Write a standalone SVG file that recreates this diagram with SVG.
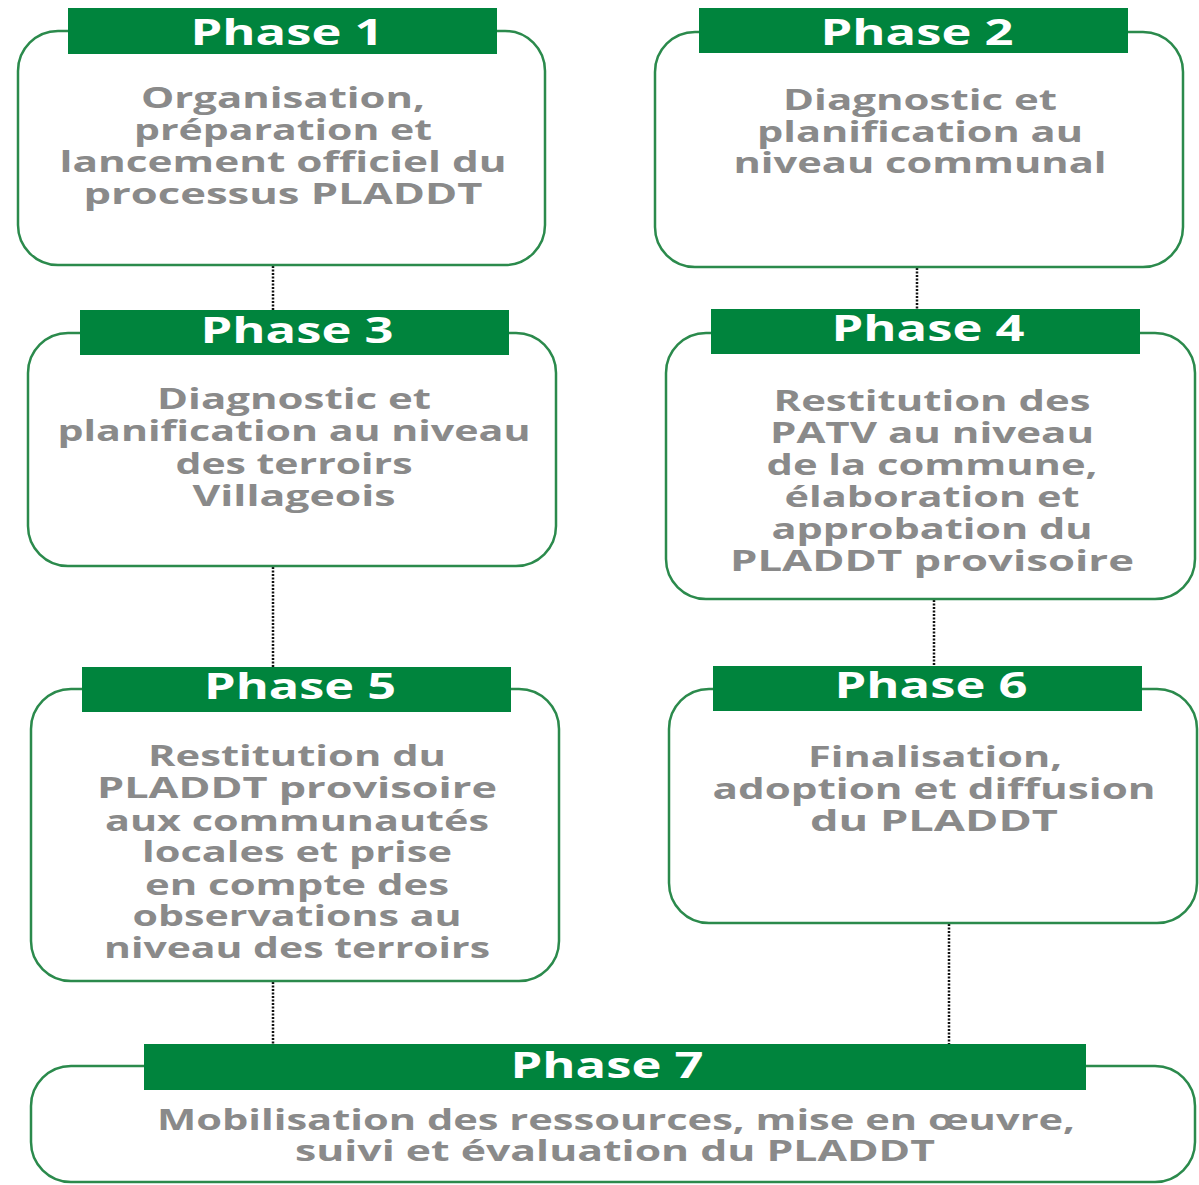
<svg xmlns="http://www.w3.org/2000/svg" width="1199" height="1185" viewBox="0 0 1199 1185">
<style>
.box{fill:#fff;stroke:#2b8a4c;stroke-width:2.5}
.bar{fill:#00843d}
.t{font-family:"Open Sans","Liberation Sans",sans-serif;font-weight:bold;font-size:35px;fill:#fff;text-anchor:middle}
.b{font-family:"Open Sans","Liberation Sans",sans-serif;font-weight:bold;font-size:28px;fill:#8a8a8a;text-anchor:middle}
.c{stroke:#111;stroke-width:2.5;stroke-dasharray:2 1.5;fill:none}
</style>
<rect width="1199" height="1185" fill="#fff"/>
<g id="connectors">
<line class="c" x1="273" y1="266" x2="273" y2="310"/>
<line class="c" x1="917" y1="268" x2="917" y2="309"/>
<line class="c" x1="273" y1="567" x2="273" y2="667"/>
<line class="c" x1="934" y1="600" x2="934" y2="666"/>
<line class="c" x1="273" y1="982" x2="273" y2="1044"/>
<line class="c" x1="949" y1="924" x2="949" y2="1044"/>
</g>
<g id="phase1">
<rect class="box" x="18" y="31" width="527" height="234" rx="40"/>
<rect class="bar" x="68" y="8" width="429" height="46"/>
<text class="t" x="287" y="45" textLength="193" lengthAdjust="spacingAndGlyphs">Phase 1</text>
<text class="b" x="283" y="108" textLength="284" lengthAdjust="spacingAndGlyphs">Organisation,</text>
<text class="b" x="283" y="140" textLength="298" lengthAdjust="spacingAndGlyphs">préparation et</text>
<text class="b" x="283" y="172" textLength="447" lengthAdjust="spacingAndGlyphs">lancement officiel du</text>
<text class="b" x="283" y="204" textLength="399" lengthAdjust="spacingAndGlyphs">processus PLADDT</text>
</g>
<g id="phase2">
<rect class="box" x="655" y="32" width="528" height="235" rx="40"/>
<rect class="bar" x="699" y="8" width="429" height="45"/>
<text class="t" x="917" y="45" textLength="193" lengthAdjust="spacingAndGlyphs">Phase 2</text>
<text class="b" x="920" y="110" textLength="274" lengthAdjust="spacingAndGlyphs">Diagnostic et</text>
<text class="b" x="920" y="142" textLength="326" lengthAdjust="spacingAndGlyphs">planification au</text>
<text class="b" x="920" y="173" textLength="373" lengthAdjust="spacingAndGlyphs">niveau communal</text>
</g>
<g id="phase3">
<rect class="box" x="28" y="333" width="528" height="233" rx="40"/>
<rect class="bar" x="80" y="310" width="429" height="45"/>
<text class="t" x="297" y="343" textLength="193" lengthAdjust="spacingAndGlyphs">Phase 3</text>
<text class="b" x="294" y="409" textLength="274" lengthAdjust="spacingAndGlyphs">Diagnostic et</text>
<text class="b" x="294" y="441" textLength="473" lengthAdjust="spacingAndGlyphs">planification au niveau</text>
<text class="b" x="294" y="474" textLength="237" lengthAdjust="spacingAndGlyphs">des terroirs</text>
<text class="b" x="294" y="506" textLength="203" lengthAdjust="spacingAndGlyphs">Villageois</text>
</g>
<g id="phase4">
<rect class="box" x="666" y="333" width="529" height="266" rx="40"/>
<rect class="bar" x="711" y="309" width="429" height="45"/>
<text class="t" x="928" y="341" textLength="193" lengthAdjust="spacingAndGlyphs">Phase 4</text>
<text class="b" x="932" y="411" textLength="317" lengthAdjust="spacingAndGlyphs">Restitution des</text>
<text class="b" x="932" y="443" textLength="324" lengthAdjust="spacingAndGlyphs">PATV au niveau</text>
<text class="b" x="932" y="475" textLength="331" lengthAdjust="spacingAndGlyphs">de la commune,</text>
<text class="b" x="932" y="507" textLength="295" lengthAdjust="spacingAndGlyphs">élaboration et</text>
<text class="b" x="932" y="539" textLength="321" lengthAdjust="spacingAndGlyphs">approbation du</text>
<text class="b" x="932" y="571" textLength="404" lengthAdjust="spacingAndGlyphs">PLADDT provisoire</text>
</g>
<g id="phase5">
<rect class="box" x="31" y="689" width="528" height="292" rx="40"/>
<rect class="bar" x="82" y="667" width="429" height="45"/>
<text class="t" x="300" y="699" textLength="192" lengthAdjust="spacingAndGlyphs">Phase 5</text>
<text class="b" x="297" y="766" textLength="298" lengthAdjust="spacingAndGlyphs">Restitution du</text>
<text class="b" x="297" y="798" textLength="400" lengthAdjust="spacingAndGlyphs">PLADDT provisoire</text>
<text class="b" x="297" y="831" textLength="384" lengthAdjust="spacingAndGlyphs">aux communautés</text>
<text class="b" x="297" y="862" textLength="310" lengthAdjust="spacingAndGlyphs">locales et prise</text>
<text class="b" x="297" y="895" textLength="304" lengthAdjust="spacingAndGlyphs">en compte des</text>
<text class="b" x="297" y="926" textLength="329" lengthAdjust="spacingAndGlyphs">observations au</text>
<text class="b" x="297" y="958" textLength="386" lengthAdjust="spacingAndGlyphs">niveau des terroirs</text>
</g>
<g id="phase6">
<rect class="box" x="669" y="689" width="528" height="234" rx="40"/>
<rect class="bar" x="713" y="666" width="429" height="45"/>
<text class="t" x="931" y="698" textLength="193" lengthAdjust="spacingAndGlyphs">Phase 6</text>
<text class="b" x="935" y="767" textLength="254" lengthAdjust="spacingAndGlyphs">Finalisation,</text>
<text class="b" x="934" y="799" textLength="443" lengthAdjust="spacingAndGlyphs">adoption et diffusion</text>
<text class="b" x="934" y="831" textLength="248" lengthAdjust="spacingAndGlyphs">du PLADDT</text>
</g>
<g id="phase7">
<rect class="box" x="31" y="1066" width="1164" height="116" rx="40"/>
<rect class="bar" x="144" y="1044" width="942" height="46"/>
<text class="t" x="607" y="1078" textLength="193" lengthAdjust="spacingAndGlyphs">Phase 7</text>
<text class="b" x="616" y="1130" textLength="918" lengthAdjust="spacingAndGlyphs">Mobilisation des ressources, mise en œuvre,</text>
<text class="b" x="615" y="1161" textLength="640" lengthAdjust="spacingAndGlyphs">suivi et évaluation du PLADDT</text>
</g>
</svg>
